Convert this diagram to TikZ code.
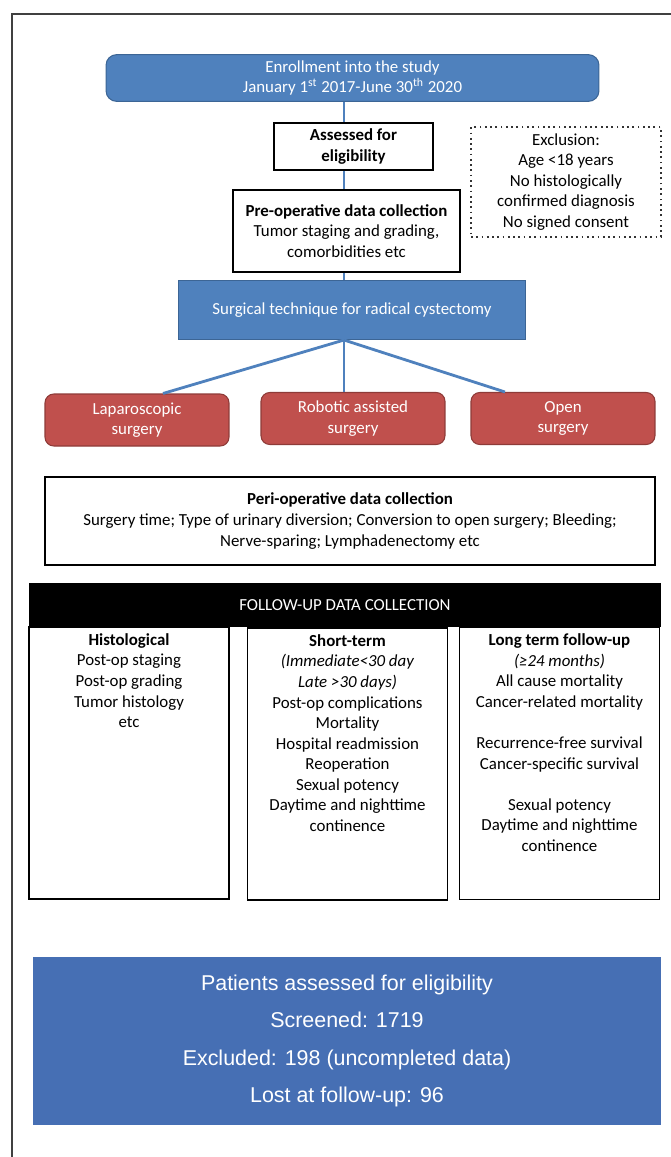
\documentclass[tikz,border=0pt]{standalone}
\usepackage{fontspec}
\setmainfont{Carlito}
\newfontfamily\arialfont{Liberation Sans}
\usetikzlibrary{calc,positioning}
\definecolor{boxblue}{HTML}{4F81BD}
\definecolor{boxblueline}{HTML}{3C6595}
\definecolor{boxred}{HTML}{C0504D}
\definecolor{boxredline}{HTML}{8E3B38}
\definecolor{statblue}{HTML}{466FB4}

\begin{document}
\begin{tikzpicture}[
    x=0.02cm, y=-0.02cm,
    every node/.style={font=\fontsize{9.6}{11.7}\selectfont, align=center},
    bluebox/.style={draw=boxblueline, fill=boxblue, text=white, line width=0.6pt},
    redbox/.style={draw=boxredline, fill=boxred, text=white, rounded corners=5pt, line width=0.6pt, minimum width=3.68cm, minimum height=1.04cm},
    whitebox/.style={draw=black, line width=1pt},
    colbox/.style={draw=black, line width=1pt, minimum width=4cm, minimum height=5.44cm},
    coltext/.style={anchor=north, inner sep=0pt},
    link/.style={draw=boxblue, line width=1.6pt}
]
\useasboundingbox (0,0) rectangle (671,1157);

% frame
\draw[line width=0.8pt, draw=black!75] (12,1157) -- (12,14) -- (671,14);

% enrollment
\node[bluebox, rounded corners=6pt, minimum width=9.86cm, minimum height=0.92cm] (enroll) at (352.5,78) {Enrollment into the study\\January 1\textsuperscript{st} 2017-June 30\textsuperscript{th} 2020};
\node[whitebox, minimum width=3.18cm, minimum height=0.94cm, font=\fontsize{9.6}{11.7}\selectfont\bfseries] (assess) at (353.5,146.5) {Assessed for\\eligibility};
\node[whitebox, minimum width=4.54cm, minimum height=1.64cm] (preop) at (346.5,231) {\textbf{Pre-operative data collection}\\Tumor staging and grading,\\comorbidities etc};
\node[draw=black!80, dotted, line width=1pt, minimum width=3.8cm, minimum height=2.2cm] (excl) at (566,182) {Exclusion:\\Age <18 years\\No histologically\\confirmed diagnosis\\No signed consent};
\node[bluebox, minimum width=6.96cm, minimum height=1.18cm] (surg) at (352,310) {Surgical technique for radical cystectomy};

\coordinate (trunk) at (344,0);
\draw[link] (enroll.south -| trunk) -- (assess.north -| trunk);
\draw[link] (assess.south -| trunk) -- (preop.north -| trunk);
\draw[link] (preop.south -| trunk) -- (surg.north -| trunk);

% techniques
\node[redbox] (lap) at (137,420) {Laparoscopic\\surgery};
\node[redbox] (robot) at (353,418.5) {Robotic assisted\\surgery};
\node[redbox] (open) at (563,418.5) {Open\\surgery};

\draw[link] (surg.south -| trunk) -- ($(lap.north)+(26,0)$);
\draw[link] (surg.south -| trunk) -- (robot.north -| trunk);
\draw[link] (surg.south -| trunk) -- ($(open.north)+(-58,0)$);

% peri-operative
\node[whitebox, minimum width=12.2cm, minimum height=1.76cm] (peri) at (350,521) {\textbf{Peri-operative data collection}\\Surgery time; Type of urinary diversion; Conversion to open surgery; Bleeding;\\Nerve-sparing; Lymphadenectomy etc};

% follow-up
\node[fill=black, text=white, minimum width=12.64cm, minimum height=0.88cm] (fuhead) at (345,605) {FOLLOW-UP DATA COLLECTION};
\node[colbox] (histo) at (129,763) {};
\node[colbox] (short) at (347.5,764) {};
\node[colbox] (long) at (559.5,763.5) {};

\node[coltext] (histotext) at ($(histo.north)+(0,7)$) {\textbf{Histological}\\Post-op staging\\Post-op grading\\Tumor histology\\etc};
\node[coltext] (shorttext) at ($(short.north)+(0,7)$) {\textbf{Short-term}\\\textit{(Immediate<30 day}\\\textit{Late >30 days)}\\Post-op complications\\Mortality\\Hospital readmission\\Reoperation\\Sexual potency\\Daytime and nighttime\\continence};
\node[coltext] (longtext) at ($(long.north)+(0,7)$) {\textbf{Long term follow-up}\\\textit{(≥24 months)}\\All cause mortality\\Cancer-related mortality\\[11.7pt]Recurrence-free survival\\Cancer-specific survival\\[11.7pt]Sexual potency\\Daytime and nighttime\\continence};

% totals
\node[fill=statblue, minimum width=12.56cm, minimum height=3.36cm, text=white, font=\arialfont\fontsize{12.2}{21.3}\selectfont] (stats) at (347,1041) {Patients assessed for eligibility\\Screened: 1719\\Excluded: 198 (uncompleted data)\\Lost at follow-up: 96};
\end{tikzpicture}
\end{document}
